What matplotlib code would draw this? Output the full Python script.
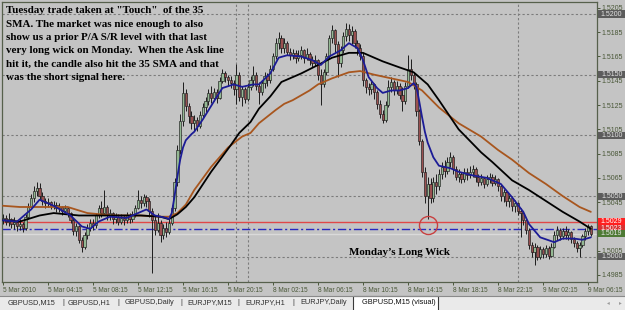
import matplotlib
matplotlib.use('Agg')
import matplotlib.pyplot as plt
from matplotlib.patches import Rectangle
from matplotlib.lines import Line2D
from matplotlib.transforms import blended_transform_factory
import numpy as np

# ---------------- data ----------------
OPEN0 = 1.5030
CLOSE = [1.5032, 1.5029, 1.5031, 1.5027, 1.5029, 1.5025, 1.5027, 1.5024,
         1.5033, 1.5041, 1.5048, 1.5054, 1.5057, 1.5050, 1.5046,
         1.5044, 1.5045, 1.5042, 1.5043, 1.5040, 1.5041, 1.5038, 1.5040, 1.5036,
         1.5030, 1.5021, 1.5025, 1.5014, 1.5008, 1.5018, 1.5024,
         1.5028, 1.5026, 1.5034, 1.5040, 1.5036, 1.5041,
         1.5034, 1.5036, 1.5031, 1.5033, 1.5029, 1.5032, 1.5030, 1.5034, 1.5031, 1.5035, 1.5040,
         1.5047, 1.5044, 1.5049, 1.5046, 1.5038,
         1.5030, 1.5022, 1.5028, 1.5018, 1.5024, 1.5020, 1.5028,
         1.5040, 1.5062, 1.5088, 1.5112, 1.5135,
         1.5124, 1.5116, 1.5110, 1.5113, 1.5108,
         1.5117, 1.5123, 1.5128, 1.5135, 1.5131, 1.5136, 1.5131,
         1.5145, 1.5151, 1.5148, 1.5146, 1.5143, 1.5138, 1.5150, 1.5132, 1.5138, 1.5130,
         1.5140, 1.5146, 1.5150, 1.5141, 1.5136, 1.5143, 1.5149, 1.5146, 1.5155, 1.5165,
         1.5176, 1.5180, 1.5172, 1.5176, 1.5169,
         1.5166, 1.5168, 1.5164, 1.5166, 1.5170, 1.5164, 1.5167, 1.5162, 1.5160,
         1.5162, 1.5150, 1.5142, 1.5152,
         1.5165, 1.5180, 1.5187, 1.5175, 1.5160, 1.5170, 1.5182,
         1.5188, 1.5183, 1.5186, 1.5176,
         1.5172, 1.5165, 1.5146,
         1.5140, 1.5138, 1.5142, 1.5136,
         1.5126, 1.5118, 1.5113, 1.5125,
         1.5140, 1.5144, 1.5137, 1.5141, 1.5133, 1.5128,
         1.5141, 1.5155, 1.5150, 1.5142,
         1.5120, 1.5095, 1.5070, 1.5050, 1.5060,
         1.5048, 1.5062, 1.5058, 1.5068, 1.5074, 1.5071, 1.5078, 1.5082, 1.5072,
         1.5066, 1.5068, 1.5064, 1.5070, 1.5067, 1.5070, 1.5072, 1.5066,
         1.5062, 1.5065, 1.5060, 1.5064, 1.5066, 1.5061, 1.5064, 1.5058,
         1.5050, 1.5053, 1.5046, 1.5048, 1.5042, 1.5044, 1.5038,
         1.5036, 1.5030, 1.5022,
         1.5010, 1.5004, 1.5008, 1.5000, 1.5006,
         1.5002, 1.5007, 1.5001, 1.5008,
         1.5018, 1.5022, 1.5017,
         1.5021, 1.5018, 1.5020, 1.5015,
         1.5011, 1.5007, 1.5010,
         1.5017, 1.5021, 1.5025, 1.5019]
HIGH = [1.5035, 1.5034, 1.5036, 1.5032, 1.5033, 1.5030, 1.5031, 1.5029,
        1.5035, 1.5044, 1.5052, 1.5058, 1.5062, 1.5061, 1.5053,
        1.5048, 1.5048, 1.5046, 1.5046, 1.5045, 1.5044, 1.5042, 1.5043, 1.5041,
        1.5037, 1.5032, 1.5028, 1.5026, 1.5016, 1.5020, 1.5027,
        1.5031, 1.5031, 1.5036, 1.5043, 1.5046, 1.5055,
        1.5043, 1.5039, 1.5037, 1.5036, 1.5035, 1.5035, 1.5034, 1.5037, 1.5036, 1.5038, 1.5043,
        1.5055, 1.5050, 1.5052, 1.5051, 1.5048,
        1.5040, 1.5034, 1.5036, 1.5030, 1.5027, 1.5029, 1.5031,
        1.5043, 1.5065, 1.5092, 1.5118, 1.5144,
        1.5138, 1.5127, 1.5120, 1.5117, 1.5115,
        1.5120, 1.5127, 1.5132, 1.5138, 1.5141, 1.5139, 1.5138,
        1.5148, 1.5155, 1.5153, 1.5150, 1.5149, 1.5146, 1.5159, 1.5152, 1.5141, 1.5140,
        1.5143, 1.5149, 1.5157, 1.5152, 1.5144, 1.5146, 1.5152, 1.5151, 1.5158, 1.5168,
        1.5180, 1.5185, 1.5183, 1.5180, 1.5178,
        1.5172, 1.5171, 1.5170, 1.5170, 1.5174, 1.5171, 1.5172, 1.5169, 1.5165,
        1.5166, 1.5163, 1.5155, 1.5155,
        1.5168, 1.5183, 1.5191, 1.5188, 1.5178, 1.5174, 1.5185,
        1.5193, 1.5192, 1.5190, 1.5188,
        1.5179, 1.5175, 1.5168,
        1.5147, 1.5143, 1.5145, 1.5143,
        1.5137, 1.5129, 1.5121, 1.5128,
        1.5146, 1.5148, 1.5146, 1.5145, 1.5143, 1.5140,
        1.5144, 1.5166, 1.5163, 1.5152,
        1.5144, 1.5122, 1.5097, 1.5074, 1.5066,
        1.5065, 1.5066, 1.5068, 1.5072, 1.5078, 1.5080, 1.5082, 1.5086, 1.5084,
        1.5075, 1.5072, 1.5070, 1.5073, 1.5073, 1.5075, 1.5076, 1.5074,
        1.5068, 1.5068, 1.5066, 1.5067, 1.5069, 1.5068, 1.5067, 1.5065,
        1.5060, 1.5056, 1.5054, 1.5051, 1.5050, 1.5047, 1.5045,
        1.5040, 1.5038, 1.5032,
        1.5024, 1.5012, 1.5011, 1.5010, 1.5009,
        1.5008, 1.5010, 1.5009, 1.5011,
        1.5021, 1.5025, 1.5024,
        1.5024, 1.5025, 1.5023, 1.5021,
        1.5016, 1.5013, 1.5012,
        1.5019, 1.5024, 1.5027, 1.5026]
LOW = [1.5027, 1.5026, 1.5025, 1.5024, 1.5023, 1.5021, 1.5022, 1.5020,
       1.5022, 1.5031, 1.5039, 1.5045, 1.5050, 1.5047, 1.5043,
       1.5040, 1.5041, 1.5039, 1.5039, 1.5037, 1.5037, 1.5034, 1.5036, 1.5033,
       1.5028, 1.5018, 1.5017, 1.5011, 1.5004, 1.5006, 1.5015,
       1.5021, 1.5022, 1.5024, 1.5032, 1.5033, 1.5034,
       1.5030, 1.5030, 1.5027, 1.5028, 1.5026, 1.5027, 1.5026, 1.5028, 1.5028, 1.5029, 1.5033,
       1.5039, 1.5040, 1.5042, 1.5041, 1.5033,
       1.4987, 1.5018, 1.5020, 1.5012, 1.5015, 1.5016, 1.5019,
       1.5026, 1.5038, 1.5058, 1.5085, 1.5108,
       1.5120, 1.5110, 1.5105, 1.5104, 1.5104,
       1.5106, 1.5114, 1.5119, 1.5125, 1.5127, 1.5128, 1.5127,
       1.5130, 1.5143, 1.5144, 1.5141, 1.5139, 1.5133, 1.5126, 1.5128, 1.5124, 1.5127,
       1.5128, 1.5137, 1.5141, 1.5137, 1.5126, 1.5133, 1.5139, 1.5141, 1.5143, 1.5153,
       1.5163, 1.5171, 1.5168, 1.5168, 1.5166,
       1.5162, 1.5163, 1.5160, 1.5161, 1.5163, 1.5160, 1.5162, 1.5158, 1.5156,
       1.5157, 1.5146, 1.5125, 1.5140,
       1.5150, 1.5163, 1.5176, 1.5168, 1.5148, 1.5156, 1.5168,
       1.5178, 1.5178, 1.5175, 1.5172,
       1.5166, 1.5162, 1.5141,
       1.5135, 1.5133, 1.5134, 1.5130,
       1.5122, 1.5114, 1.5110, 1.5111,
       1.5123, 1.5136, 1.5133, 1.5134, 1.5130, 1.5120,
       1.5126, 1.5139, 1.5146, 1.5138,
       1.5116, 1.5092, 1.5066, 1.5044, 1.5031,
       1.5044, 1.5045, 1.5052, 1.5055, 1.5064, 1.5066, 1.5068, 1.5074, 1.5068,
       1.5063, 1.5062, 1.5061, 1.5062, 1.5063, 1.5065, 1.5066, 1.5062,
       1.5058, 1.5059, 1.5057, 1.5058, 1.5061, 1.5058, 1.5059, 1.5054,
       1.5046, 1.5045, 1.5042, 1.5041, 1.5038, 1.5037, 1.5034,
       1.5016, 1.5026, 1.5019,
       1.5006, 1.5000, 1.4993, 1.4997, 1.4998,
       1.4999, 1.5000, 1.4998, 1.5000,
       1.5007, 1.5014, 1.5014,
       1.5015, 1.5015, 1.5014, 1.5011,
       1.5008, 1.5004, 1.5000,
       1.5008, 1.5014, 1.5018, 1.5017]

BLUE_IDX = [0, 5, 10, 13, 18, 24, 28, 31, 34, 38, 44, 51, 54, 58, 59, 60, 61, 62, 63, 64, 65, 67,
            68, 71, 75, 78, 82, 85, 89, 91, 95, 98, 101, 106, 110, 113, 116, 120, 123, 126, 128,
            130, 133, 135, 138, 141, 144, 146, 147, 148, 149, 150, 151, 153, 155, 159, 162, 167,
            172, 177, 181, 185, 187, 191, 196, 199, 203, 206, 209]
BLUE_VAL = [1.5030, 1.5029, 1.5039, 1.5047, 1.5042, 1.5034, 1.5025, 1.5023, 1.5029, 1.5033,
            1.5032, 1.5039, 1.5034, 1.5032, 1.5031, 1.5036, 1.5050, 1.5066, 1.5080, 1.5090,
            1.5096, 1.5101, 1.5103, 1.5113, 1.5128, 1.5139, 1.5142, 1.5140, 1.5142, 1.5142,
            1.5151, 1.5164, 1.5166, 1.5165, 1.5162, 1.5158, 1.5165, 1.5170, 1.5176, 1.5172,
            1.5162, 1.5148, 1.5139, 1.5135, 1.5137, 1.5137, 1.5139, 1.5143, 1.5140, 1.5128,
            1.5115, 1.5103, 1.5094, 1.5082, 1.5075, 1.5073, 1.5070, 1.5067, 1.5065, 1.5060,
            1.5049, 1.5037, 1.5027, 1.5016, 1.5012, 1.5015, 1.5015, 1.5014, 1.5016]

BLACK_IDX = [0, 6, 13, 18, 27, 38, 49, 56, 59, 62, 65, 68, 74, 81, 84, 88, 91, 95, 99, 103, 106,
             112, 117, 123, 128, 135, 141, 146, 151, 155, 162, 170, 174, 181, 187, 193, 199, 205, 209]
BLACK_VAL = [1.5030, 1.5029, 1.5034, 1.5036, 1.5034, 1.5034, 1.5034, 1.5033, 1.5031, 1.5035,
             1.5041, 1.5049, 1.5070, 1.5092, 1.5102, 1.5111, 1.5122, 1.5132, 1.5144, 1.5148,
             1.5151, 1.5158, 1.5164, 1.5168, 1.5168, 1.5161, 1.5156, 1.5152, 1.5142, 1.5129,
             1.5105, 1.5086, 1.5078, 1.5063, 1.5055, 1.5046, 1.5037, 1.5029, 1.5023]

BROWN_IDX = [0, 6, 14, 23, 30, 39, 49, 56, 59, 62, 65, 68, 74, 80, 85, 88, 91, 97, 100, 103, 109,
             112, 117, 123, 127, 132, 138, 144, 149, 155, 162, 170, 176, 181, 187, 193, 199, 205, 209]
BROWN_VAL = [1.5042, 1.5041, 1.5041, 1.5041, 1.5036, 1.5034, 1.5034, 1.5033, 1.5033, 1.5036,
             1.5043, 1.5055, 1.5074, 1.5090, 1.5099, 1.5102, 1.5110, 1.5121, 1.5126, 1.5129,
             1.5137, 1.5142, 1.5147, 1.5152, 1.5153, 1.5150, 1.5147, 1.5144, 1.5137, 1.5123,
             1.5110, 1.5099, 1.5088, 1.5080, 1.5069, 1.5060, 1.5050, 1.5041, 1.5037]

TIME_TICKS = [0, 16, 32, 48, 64, 80, 96, 112, 128, 144, 160, 176, 192, 208]
TIME_LABELS = ['5 Mar 2010', '5 Mar 04:15', '5 Mar 08:15', '5 Mar 12:15', '5 Mar 16:15',
               '5 Mar 20:15', '8 Mar 02:15', '8 Mar 06:15', '8 Mar 10:15', '8 Mar 14:15',
               '8 Mar 18:15', '8 Mar 22:15', '9 Mar 02:15', '9 Mar 06:15']
# 1.5025 sits hidden behind the line-price boxes in the reference, so it is not labelled
PRICE_TICKS = [1.4985, 1.5005, 1.5045, 1.5065, 1.5085, 1.5105,
               1.5125, 1.5145, 1.5165, 1.5185, 1.5205]
GRID_LEVELS = [1.5200, 1.5150, 1.5100, 1.5050, 1.5000]
RED_LEVEL = 1.5029
ASK_LEVEL = 1.5023
BID_LEVEL = 1.5019
SEPARATORS = [83, 87, 183]
CIRCLE_X, CIRCLE_Y = 151.2, 1.50259

NOTE_LINES = ['Tuesday trade taken at "Touch"  of the 35',
              'SMA. The market was nice enough to also',
              'show us a prior P/A S/R level with that last',
              'very long wick on Monday.  When the Ask line',
              'hit it, the candle also hit the 35 SMA and that',
              'was the short signal here.']
WICK_NOTE = 'Monday\u2019s Long Wick'
WICK_NOTE_X, WICK_NOTE_Y = 123, 1.50015

TABS = [('GBPUSD,M15', 8), ('|', 62), ('GBPUSD,H1', 68), ('|', 117), ('GBPUSD,Daily', 125),
        ('|', 180), ('EURJPY,M15', 187), ('|', 237), ('EURJPY,H1', 245), ('|', 292),
        ('EURJPY,Daily', 300)]
ACTIVE_TAB = 'GBPUSD,M15 (visual)'

# ---------------- figure ----------------
W, H = 625, 310
BG = '#c4c4c4'
FG = '#4a5838'
fig = plt.figure(figsize=(W / 100, H / 100), dpi=100)
fig.patch.set_facecolor(BG)


def fx(px):
    return px / W


def fy(py):
    return 1 - py / H


ax = fig.add_axes([fx(2), fy(282), fx(597) - fx(2), fy(2) - fy(282)])
ax.set_facecolor(BG)
ax.set_xlim(-0.36, 211.2)
ax.set_ylim(1.49792, 1.52099)
for s in ax.spines.values():
    s.set_color('#56604c')
    s.set_linewidth(0.9)

# horizontal / vertical object lines
for lv in GRID_LEVELS:
    ax.axhline(lv, color='#7c7c7c', lw=0.8, ls=(0, (2, 2)), zorder=1)
for sx in SEPARATORS:
    ax.axvline(sx, color='#7c7c7c', lw=0.8, ls=(0, (2, 2)), zorder=1)
ax.axhline(RED_LEVEL, color='#e04848', lw=1.0, zorder=2)
ax.axhline(ASK_LEVEL, color='#2828c0', lw=1.0, ls=(0, (6, 2, 1.5, 2)), zorder=2)
ax.axhline(BID_LEVEL, color='#dadada', lw=1.0, zorder=2)

# candles
close = np.array(CLOSE)
high = np.array(HIGH)
low = np.array(LOW)
opens = np.concatenate([[OPEN0], close[:-1]])
idx = np.arange(len(close))
up = close >= opens
ax.vlines(idx, low, high, color='#1c1c1c', lw=0.7, zorder=3)
bb = np.minimum(opens, close)
bh = np.maximum(np.abs(close - opens), 0.00004)
ax.bar(idx[up], bh[up], bottom=bb[up], width=0.8, color='#93b893',
       edgecolor='#1c1c1c', linewidth=0.45, zorder=4)
ax.bar(idx[~up], bh[~up], bottom=bb[~up], width=0.8, color='#9a5050',
       edgecolor='#1c1c1c', linewidth=0.45, zorder=4)

# moving averages
ax.plot(BROWN_IDX, BROWN_VAL, color='#a8561e', lw=1.3, zorder=5, solid_capstyle='round')
ax.plot(BLACK_IDX, BLACK_VAL, color='#000000', lw=1.3, zorder=5, solid_capstyle='round')
ax.plot(BLUE_IDX, BLUE_VAL, color='#1c1c96', lw=1.3, zorder=6, solid_capstyle='round')

# circle
ax.plot([CIRCLE_X], [CIRCLE_Y], marker='o', ms=13, mfc='none', mec='#c84040', mew=1.0, zorder=7)

# axes ticks
ax.set_xticks(TIME_TICKS)
ax.set_xticklabels(TIME_LABELS)
for lbl in ax.get_xticklabels():
    lbl.set_ha('left')
ax.tick_params(axis='x', direction='out', length=2.5, width=0.7, pad=1.0, colors=FG,
               labelsize=4.7, labelcolor=FG)
ax.yaxis.tick_right()
ax.set_yticks(PRICE_TICKS)
ax.set_yticklabels(['%.4f' % p for p in PRICE_TICKS])
ax.tick_params(axis='y', direction='out', length=2, width=0.7, pad=1.2, colors=FG,
               labelsize=5.0, labelcolor=FG)
for lbl in ax.get_xticklabels() + ax.get_yticklabels():
    lbl.set_family('Liberation Sans')

# price boxes on the right scale
bt = blended_transform_factory(ax.transAxes, ax.transData)
BOX_H = 0.00058
BOX_W = 27 / 595
boxes = [(p, '%.4f' % p, '#5c5c5c', '#e4e4e4') for p in GRID_LEVELS]
boxes += [(ASK_LEVEL, '%.4f' % ASK_LEVEL, '#d83030', '#ffffff'),
          (RED_LEVEL, '%.4f' % RED_LEVEL, '#ff2020', '#ffffff'),
          (BID_LEVEL, '%.4f' % BID_LEVEL, '#4e7a34', '#e8e8e8')]
for p, t, fc, tc in boxes:
    ax.add_patch(Rectangle((1.002, p - BOX_H / 2), BOX_W, BOX_H, transform=bt,
                           fc=fc, ec='none', clip_on=False, zorder=10))
    ax.text(1.002 + BOX_W / 2, p, t, transform=bt, ha='center', va='center',
            fontsize=5.0, color=tc, family='Liberation Sans', clip_on=False, zorder=11)

# notes
for k, line in enumerate(NOTE_LINES):
    fig.text(fx(6), fy(13.3 + 13.3 * k), line, ha='left', va='baseline',
             fontsize=7.9, family='Liberation Serif', weight='bold', color='#000000')
ax.text(WICK_NOTE_X, WICK_NOTE_Y, WICK_NOTE, ha='left', va='baseline',
        fontsize=7.9, family='Liberation Serif', weight='bold', color='#000000', zorder=8)

# tab bar
fig.add_artist(Rectangle((0, 0), 1, fy(295.5), transform=fig.transFigure,
                         fc='#eaeaea', ec='none', zorder=0))
fig.add_artist(Line2D([0, 1], [fy(295.5), fy(295.5)], transform=fig.transFigure,
                      color='#8a8a8a', lw=0.8))
fig.add_artist(Rectangle((fx(353), fy(310.5)), fx(438) - fx(353), fy(296) - fy(310.5),
                         transform=fig.transFigure, fc='#ffffff', ec='#3a3a3a', lw=0.8))
for name, px in TABS:
    fig.text(fx(px), fy(303), name, ha='left', va='center', fontsize=5.3,
             family='Liberation Sans', color='#303030')
fig.text(fx(362), fy(303), ACTIVE_TAB, ha='left', va='center', fontsize=5.3,
         family='Liberation Sans', color='#101010')
fig.text(fx(608), fy(303), '\u25c2', ha='center', va='center', fontsize=4,
         family='DejaVu Sans', color='#9a9a9a')
fig.text(fx(620), fy(303), '\u25b8', ha='center', va='center', fontsize=4,
         family='DejaVu Sans', color='#9a9a9a')

fig.savefig('out.png', dpi=100, facecolor=fig.get_facecolor())
